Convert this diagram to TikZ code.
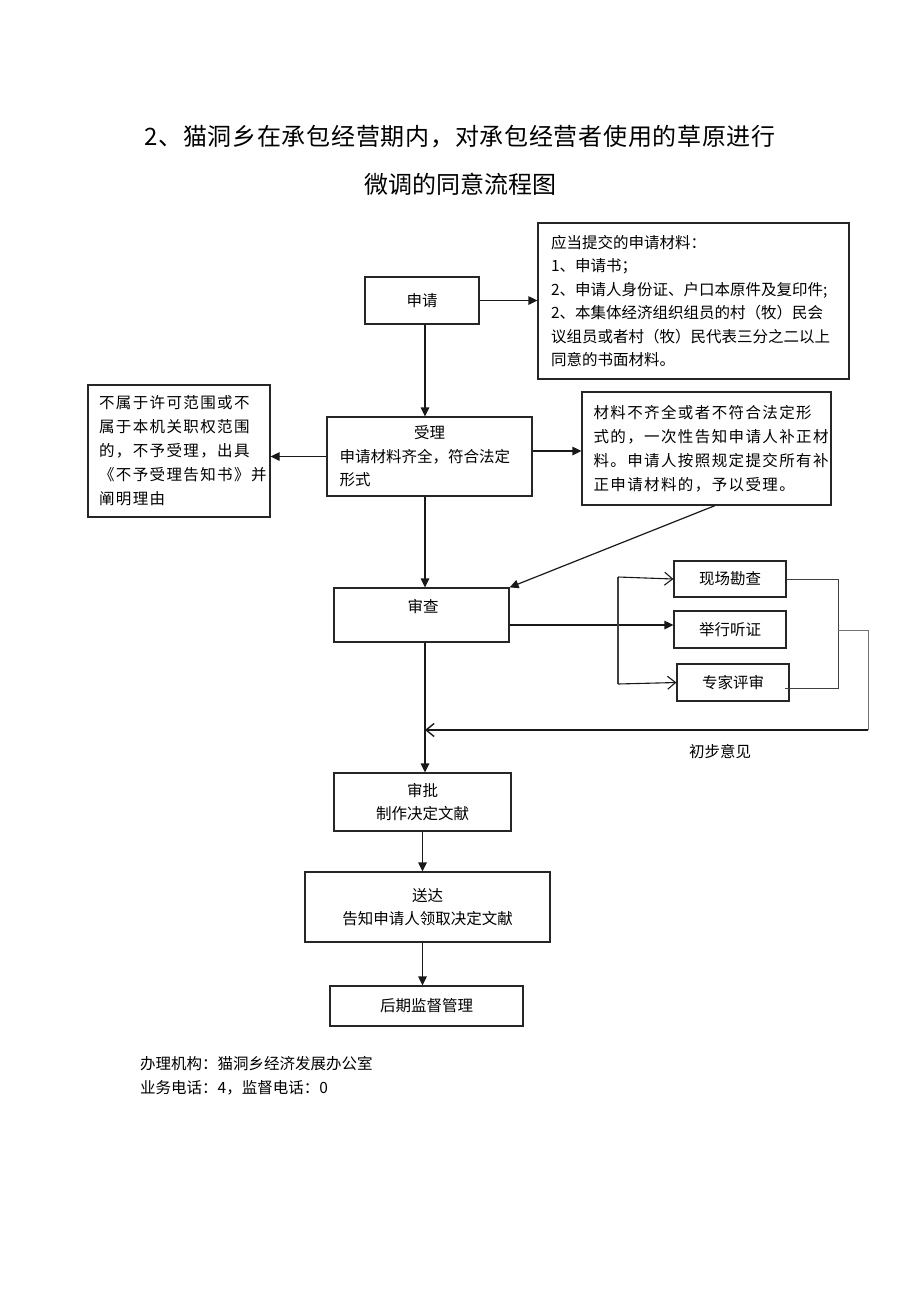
\documentclass[tikz,border=0pt]{standalone}
\usepackage{fontspec}
\setmainfont{Noto Sans CJK SC}
\newfontfamily\titlefont{Noto Sans CJK SC}[LetterSpace=3]
\newfontfamily\wide{Noto Sans CJK SC}[LetterSpace=9]
\usetikzlibrary{arrows.meta}
\tikzset{
  box/.style={draw=black!85, line width=1.2pt, inner sep=0pt, align=center, font=\fontsize{15.5}{23.5}\selectfont},
  txt/.style={inner sep=0pt, font=\fontsize{15.5}{23.5}\selectfont},
  arr/.style={draw=black!90, line width=1.2pt, -{Triangle[length=9pt,width=8.5pt]}},
  openarr/.style={draw=black!90, line width=1.1pt, -{Straight Barb[length=8pt,width=13pt]}},
  thinln/.style={draw=black!75, line width=0.9pt},
}
\begin{document}
\begin{tikzpicture}[x=1pt,y=-1pt]
\useasboundingbox[fill=white] (0,0) rectangle (920,1302);
% title
\node[inner sep=0pt, font=\fontsize{24}{28}\titlefont] (t1) at (460,137) {2、猫洞乡在承包经营期内，对承包经营者使用的草原进行};
\node[inner sep=0pt, font=\fontsize{24}{28}\selectfont] (t2) at (460,184) {微调的同意流程图};
% coordinates
\coordinate (c425) at (425,0);
\coordinate (c451) at (0,451);
\coordinate (c625) at (0,625);
\coordinate (c715) at (715,0);
% boxes
\node[box, minimum width=114pt, minimum height=47pt] (apply) at (422,300.5) {申请};
\node[box, minimum width=311pt, minimum height=156pt, align=left, text width=285pt] (mat) at (693.5,301)
  {应当提交的申请材料：\\1、申请书；\\2、申请人身份证、户口本原件及复印件;\\2、本集体经济组织组员的村（牧）民会\\议组员或者村（牧）民代表三分之二以上\\同意的书面材料。};
\node[box, minimum width=205pt, minimum height=79pt, align=left, text width=180pt] (accept) at (429.5,456.5)
  {\makebox[180pt]{受理}\\申请材料齐全，符合法定\\形式};
\node[box, minimum width=182pt, minimum height=132pt, align=left, text width=160pt, font=\fontsize{15.5}{24}\wide] (notacc) at (179,451)
  {不属于许可范围或不\\属于本机关职权范围\\的，不予受理，出具\\《不予受理告知书》并\\阐明理由};
\node[box, minimum width=249pt, minimum height=113pt, align=left, text width=226pt, font=\fontsize{15.5}{24}\wide] (fix) at (706.5,448.5)
  {材料不齐全或者不符合法定形\\式的，一次性告知申请人补正材\\料。申请人按照规定提交所有补\\正申请材料的，予以受理。};
\node[box, minimum width=175pt, minimum height=54pt] (review) at (421.5,615) {};
\node[txt] (reviewt) at (423,607) {审查};
\node[box, minimum width=112pt, minimum height=36pt] (site) at (730,579) {现场勘查};
\node[box, minimum width=112pt, minimum height=37pt] (hear) at (730,629.5) {举行听证};
\node[box, minimum width=112pt, minimum height=37pt] (expert) at (733,682.5) {专家评审};
\node[box, minimum width=177pt, minimum height=58pt] (approve) at (422.5,802) {审批\\制作决定文献};
\node[box, minimum width=245pt, minimum height=70pt] (deliver) at (427.5,907) {送达\\告知申请人领取决定文献};
\node[box, minimum width=193pt, minimum height=40pt] (super) at (426.5,1006) {后期监督管理};
% label and footer
\node[txt] (opinion) at (720,752) {初步意见};
\node[txt, anchor=west] (f1) at (140,1064) {办理机构：猫洞乡经济发展办公室};
\node[txt, anchor=west] (f2) at (140,1088) {业务电话：4，监督电话：0};
% connectors
\draw[arr] (apply.east) -- (apply.east -| mat.west);
\draw[arr] (apply.south -| c425) -- (accept.north -| c425);
\draw[arr] (accept.west) -- (accept.west -| notacc.east);
\draw[arr] (accept.east |- c451) -- (fix.west |- c451);
\draw[arr] (fix.south -| c715) -- (review.north east);
\draw[arr] (accept.south -| c425) -- (review.north -| c425);
\draw[arr] (review.east |- c625) -- (hear.west |- c625);
\coordinate (b1) at (618,577);
\coordinate (b2) at (618,684);
\draw[thinln, line width=1.1pt] (b1) -- (b2);
\draw[openarr] (b1) -- (site.west);
\draw[openarr] (b2) -- (expert.west);
\coordinate (m1) at (838,579);
\coordinate (m2) at (838,688);
\coordinate (m3) at (785,688);
\coordinate (m4) at (838,630);
\coordinate (r1) at (868,630);
\coordinate (r2) at (868,730);
\draw[thinln] (site.east) -- (m1) -- (m2) -- (m3);
\draw[thinln, draw=black!55] (m4) -- (r1) -- (r2);
\draw[openarr, line width=1.4pt] (r2) -- (r2 -| c425);
\draw[arr] (review.south -| c425) -- (approve.north -| c425);
\draw[arr] (approve.south) -- (approve.south |- deliver.north);
\draw[arr] (deliver.south -| approve.south) -- (super.north -| approve.south);
\end{tikzpicture}
\end{document}
